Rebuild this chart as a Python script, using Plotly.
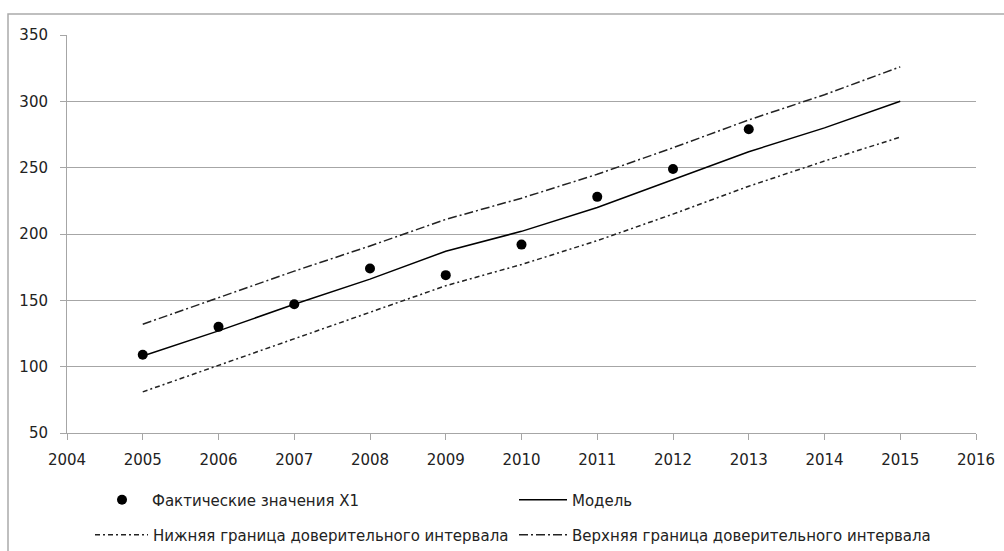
import plotly.graph_objects as go

years_actual = [2005, 2006, 2007, 2008, 2009, 2010, 2011, 2012, 2013]
actual_x1 = [109, 130, 147, 174, 169, 192, 228, 249, 279]

years_model = [2005, 2006, 2007, 2008, 2009, 2010, 2011, 2012, 2013, 2014, 2015]
model = [108, 127, 147, 166, 187, 202, 220, 241, 262, 280, 300]
lower = [81, 101, 121, 141, 161, 177, 195, 215, 236, 255, 273]
upper = [132, 152, 172, 191, 211, 227, 245, 265, 286, 305, 326]

x_ticks = list(range(2004, 2017))
y_ticks = [50, 100, 150, 200, 250, 300, 350]

tick_font = "DejaVu Sans"
legend_font = dict(family="DejaVu Sans", size=15, color="#222")
axis_col = "#A6A6A6"

fig = go.Figure()
fig.add_trace(go.Scatter(x=years_actual, y=actual_x1, mode="markers",
                         marker=dict(color="black", size=10),
                         name="Фактические значения X1", legend="legend"))
fig.add_trace(go.Scatter(x=years_model, y=model, mode="lines",
                         line=dict(color="black", width=1.5),
                         name="Модель", legend="legend2"))
fig.add_trace(go.Scatter(x=years_model, y=lower, mode="lines",
                         line=dict(color="#222", width=1.5, dash="5px,3px,2px,3px"),
                         name="Нижняя граница доверительного интервала", legend="legend3"))
fig.add_trace(go.Scatter(x=years_model, y=upper, mode="lines",
                         line=dict(color="#222", width=1.5, dash="9px,3px,2px,3px"),
                         name="Верхняя граница доверительного интервала", legend="legend4"))

def leg(xpx, ypx, itemwidth=30):
    return dict(orientation="h", x=(xpx - 67) / 909, xanchor="left",
                y=(433 - ypx) / 398, yanchor="middle", itemwidth=itemwidth,
                font=legend_font, bgcolor="rgba(0,0,0,0)", itemclick=False,
                itemdoubleclick=False)

fig.update_layout(
    width=1004, height=551,
    margin=dict(l=67, r=28, t=35, b=118, autoexpand=False),
    paper_bgcolor="white", plot_bgcolor="white",
    font=dict(family=tick_font, size=15, color="#222"),
    legend=leg(92, 500, 50),
    legend2=leg(514, 500, 48),
    legend3=leg(90, 535, 53),
    legend4=leg(514, 535, 48),
    showlegend=True,
)
fig.update_xaxes(range=[2004, 2016], tickvals=x_ticks, ticktext=[str(t) for t in x_ticks],
                 showgrid=False, showline=True, linecolor=axis_col, linewidth=1,
                 ticks="outside", ticklen=6, tickcolor=axis_col, zeroline=False,
                 ticklabelstandoff=7)
fig.update_yaxes(range=[50, 350], tickvals=y_ticks, showgrid=True, gridcolor=axis_col,
                 gridwidth=1, showline=True, linecolor=axis_col, linewidth=1,
                 ticks="outside", ticklen=6, tickcolor=axis_col, zeroline=False,
                 ticklabelstandoff=9)

# chart border (left and top edges visible in the reference)
fig.add_shape(type="rect", xref="paper", yref="paper",
              x0=-59/909, x1=1.2, y0=-0.5, y1=1 + 21/398,
              line=dict(color="#AAAAAA", width=1.5), fillcolor="rgba(0,0,0,0)", layer="below")

fig.write_html("out.html")
